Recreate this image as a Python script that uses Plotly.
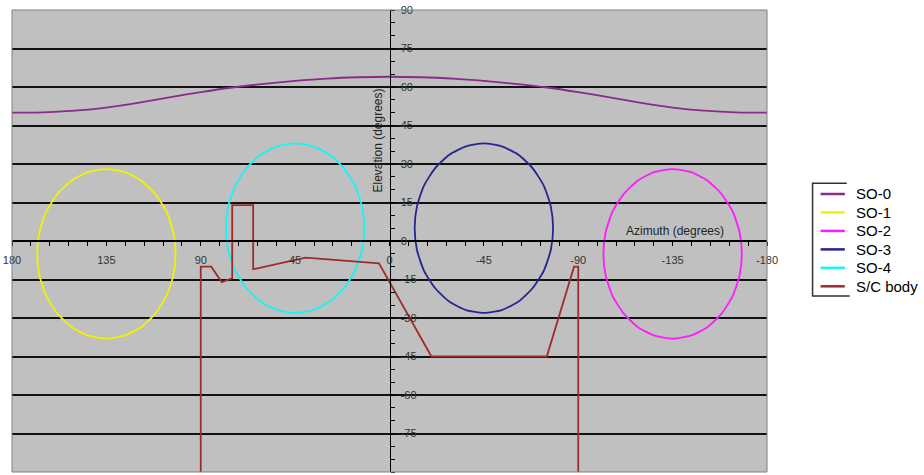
import plotly.graph_objects as go

# ---------------- data ----------------
series_names = ["SO-0", "SO-1", "SO-2", "SO-3", "SO-4", "S/C body"]
series_colors = ["#8a2a8a", "#f2f200", "#ff1aff", "#26268f", "#14f5f5", "#9e2c2c"]

so0_az = [180, 165, 150, 135, 120, 105, 90, 75, 60, 45, 30, 15, 0,
          -15, -30, -45, -60, -75, -90, -105, -120, -135, -150, -165, -180]
so0_el = [50.0, 50.1, 50.8, 52.0, 53.8, 56.0, 58.0, 59.8, 61.2, 62.4, 63.3, 63.8, 64.0,
          63.8, 63.3, 62.4, 61.2, 59.8, 58.0, 56.0, 53.8, 52.0, 50.8, 50.1, 50.0]

so1_az = [168, 166.9, 163.6, 158.3, 151.5, 143.5, 135, 126.5, 118.5, 111.7, 106.4, 103.1, 102,
          103.1, 106.4, 111.7, 118.5, 126.5, 135, 143.5, 151.5, 158.3, 163.6, 166.9, 168]
so1_el = [-5, 3.5, 11.5, 18.3, 23.6, 26.9, 28, 26.9, 23.6, 18.3, 11.5, 3.5, -5,
          -13.5, -21.5, -28.3, -33.6, -36.9, -38, -36.9, -33.6, -28.3, -21.5, -13.5, -5]

so2_az = [-102, -103.1, -106.4, -111.7, -118.5, -126.5, -135, -143.5, -151.5, -158.3, -163.6, -166.9, -168,
          -166.9, -163.6, -158.3, -151.5, -143.5, -135, -126.5, -118.5, -111.7, -106.4, -103.1, -102]
so2_el = [-5, 3.5, 11.5, 18.3, 23.6, 26.9, 28, 26.9, 23.6, 18.3, 11.5, 3.5, -5,
          -13.5, -21.5, -28.3, -33.6, -36.9, -38, -36.9, -33.6, -28.3, -21.5, -13.5, -5]

so3_az = [-12, -13.1, -16.4, -21.7, -28.5, -36.5, -45, -53.5, -61.5, -68.3, -73.6, -76.9, -78,
          -76.9, -73.6, -68.3, -61.5, -53.5, -45, -36.5, -28.5, -21.7, -16.4, -13.1, -12]
so3_el = [5, 13.5, 21.5, 28.3, 33.6, 36.9, 38, 36.9, 33.6, 28.3, 21.5, 13.5, 5,
          -3.5, -11.5, -18.3, -23.6, -26.9, -28, -26.9, -23.6, -18.3, -11.5, -3.5, 5]

so4_az = [78, 76.9, 73.6, 68.3, 61.5, 53.5, 45, 36.5, 28.5, 21.7, 16.4, 13.1, 12,
          13.1, 16.4, 21.7, 28.5, 36.5, 45, 53.5, 61.5, 68.3, 73.6, 76.9, 78]
so4_el = [5, 13.5, 21.5, 28.3, 33.6, 36.9, 38, 36.9, 33.6, 28.3, 21.5, 13.5, 5,
          -3.5, -11.5, -18.3, -23.6, -26.9, -28, -26.9, -23.6, -18.3, -11.5, -3.5, 5]

body_az = [90, 90, 85, 80, 75, 75, 65, 65, 40, 5, -20, -75, -88, -90, -90]
body_el = [-90, -10, -10, -16, -14.5, 14, 14, -11, -6.5, -8.7, -45, -45, -10, -10, -90]

x_tick_vals = [180, 135, 90, 45, 0, -45, -90, -135, -180]
x_tick_text = ["180", "135", "90", "45", "0", "-45", "-90", "-135", "-180"]
y_tick_vals = [90, 75, 60, 45, 30, 15, 0, -15, -30, -45, -60, -75, -90]
y_tick_text = ["90", "75", "60", "45", "30", "15", "0", "-15", "-30", "-45", "-60", "-75", "-90"]

x_title = "Azimuth (degrees)"
y_title = "Elevation (degrees)"

# ---------------- figure ----------------
FONT = "Liberation Sans, Arial, sans-serif"
series_az = [so0_az, so1_az, so2_az, so3_az, so4_az, body_az]
series_el = [so0_el, so1_el, so2_el, so3_el, so4_el, body_el]

fig = go.Figure()
for name, color, az, el in zip(series_names, series_colors, series_az, series_el):
    shape = "linear" if name == "S/C body" else "spline"
    fig.add_trace(go.Scatter(
        x=az, y=el, name=name, mode="lines",
        line=dict(color=color, width=1.8, shape=shape, smoothing=0.6),
        hoverinfo="x+y+name"))

W, H = 924, 475
ML, MR, MT, MB = 10, 157, 10, 3
pw, ph = W - ML - MR, H - MT - MB


def px_x(p):
    return (p - ML) / pw


def px_y(p):
    return (H - MB - p) / ph


fig.update_layout(
    width=W, height=H,
    margin=dict(l=ML, r=MR, t=MT, b=MB, pad=0),
    plot_bgcolor="#c0c0c0", paper_bgcolor="white",
    showlegend=False,
    font=dict(family=FONT, size=11, color="#333333"),
    xaxis=dict(
        range=[180, -180], anchor="free", position=0.5,
        showline=True, linecolor="black", linewidth=1.5,
        zeroline=False, showgrid=False,
        tickmode="array", tickvals=x_tick_vals, ticktext=x_tick_text,
        ticks="outside", ticklen=4, tickcolor="black", tickwidth=1,
        ticklabelstandoff=5,
        tickfont=dict(family=FONT, size=11, color="#333333"),
        minor=dict(tickmode="linear", tick0=0, dtick=9, ticks="outside",
                   ticklen=4, tickcolor="black", showgrid=False),
    ),
    yaxis=dict(
        range=[-90, 90], anchor="free", position=0.5, side="right",
        showline=True, linecolor="black", linewidth=1,
        zeroline=False, showgrid=True, gridcolor="#111111", gridwidth=1.5,
        tickmode="array", tickvals=y_tick_vals, ticktext=y_tick_text,
        ticks="outside", ticklen=4, tickcolor="black", tickwidth=1,
        ticklabelstandoff=4,
        tickfont=dict(family=FONT, size=11, color="#333333"),
        minor=dict(tickmode="linear", tick0=0, dtick=5, ticks="outside",
                   ticklen=4, tickcolor="black", showgrid=False),
    ),
)

shapes = [
    dict(type="rect", xref="paper", yref="paper", x0=0, x1=1, y0=0, y1=1,
         line=dict(color="#808080", width=1), layer="above"),
    # legend bracket border
    dict(type="path", xref="paper", yref="paper",
         path="M {a},{b} L {c},{b} L {c},{d} L {e},{d}".format(
             a=px_x(847), b=px_y(183.3), c=px_x(812.7), d=px_y(296), e=px_x(850)),
         line=dict(color="#333333", width=1.5)),
]
annotations = [
    dict(text=x_title, xref="paper", yref="paper", x=px_x(675), y=px_y(231),
         xanchor="center", yanchor="middle", showarrow=False,
         font=dict(family=FONT, size=12, color="#222222")),
    dict(text=y_title, xref="paper", yref="paper", x=px_x(377), y=px_y(140.5),
         xanchor="center", yanchor="middle", showarrow=False, textangle=-90,
         font=dict(family=FONT, size=12, color="#222222")),
]

# manual legend
for i, (name, color) in enumerate(zip(series_names, series_colors)):
    yc = 194 + i * 18.46
    shapes.append(dict(type="line", xref="paper", yref="paper",
                       x0=px_x(820.7), x1=px_x(845), y0=px_y(yc), y1=px_y(yc),
                       line=dict(color=color, width=2.5)))
    annotations.append(dict(text=name, xref="paper", yref="paper",
                            x=px_x(854), y=px_y(yc), xanchor="left", yanchor="middle",
                            showarrow=False,
                            font=dict(family=FONT, size=15, color="black")))

fig.update_layout(shapes=shapes, annotations=annotations)

fig.write_html("out.html",
               config={"displayModeBar": False},
               post_script="document.body.style.margin='0';document.body.style.overflow='hidden';")
